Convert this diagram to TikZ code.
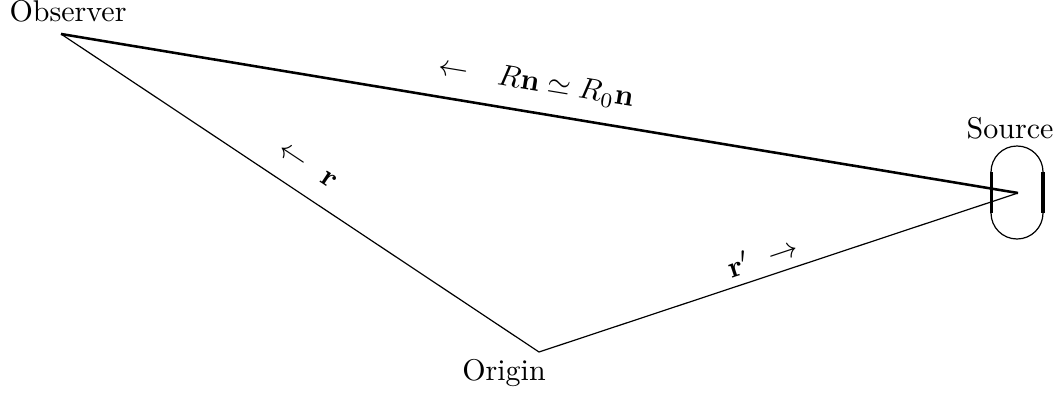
\documentclass[tikz,border=0pt]{standalone}
\begin{document}
\begin{tikzpicture}[x=0.33333pt,y=-0.33333pt,
  thinline/.style={line width=0.4pt},
  thickline/.style={line width=0.85pt},
  lbl/.style={inner sep=0pt}]
\useasboundingbox (0,0) rectangle (1058,394);
\coordinate (obs) at (61,34);
\coordinate (org) at (539,352);
\coordinate (src) at (1018,193);
\draw[thickline] (obs) -- (src);
\draw[thinline] (obs) -- (org) -- (src);
% source blob
\draw[thinline] (991,172) .. controls (991,157.6) and (1002.6,146) .. (1017,146)
   .. controls (1031.4,146) and (1043,157.6) .. (1043,172);
\draw[thinline] (991,213) .. controls (991,227.4) and (1002.6,239) .. (1017,239)
   .. controls (1031.4,239) and (1043,227.4) .. (1043,213);
\draw[line width=1pt] (991,172) -- (991,213);
\draw[line width=1.3pt] (1043,172) -- (1043,213);
\node[lbl,anchor=base] (tobs) at (68,22) {Observer};
\node[lbl,anchor=base] (tsrc) at (1010,138) {Source};
\node[lbl,anchor=base] (torg) at (504,380) {Origin};
\node[lbl,rotate=-9.4] (lR) at (536,83) {$\leftarrow\hspace{7.3pt}R\mathbf{n}\simeq R_0\mathbf{n}$};
\node[lbl,rotate=-33.6] (lr) at (307,166) {$\leftarrow\hspace{4.3pt}\mathbf{r}$};
\node[lbl,rotate=18.4] (lrp) at (762,256) {$\mathbf{r}'\hspace{3.7pt}\rightarrow$};
\end{tikzpicture}
\end{document}
